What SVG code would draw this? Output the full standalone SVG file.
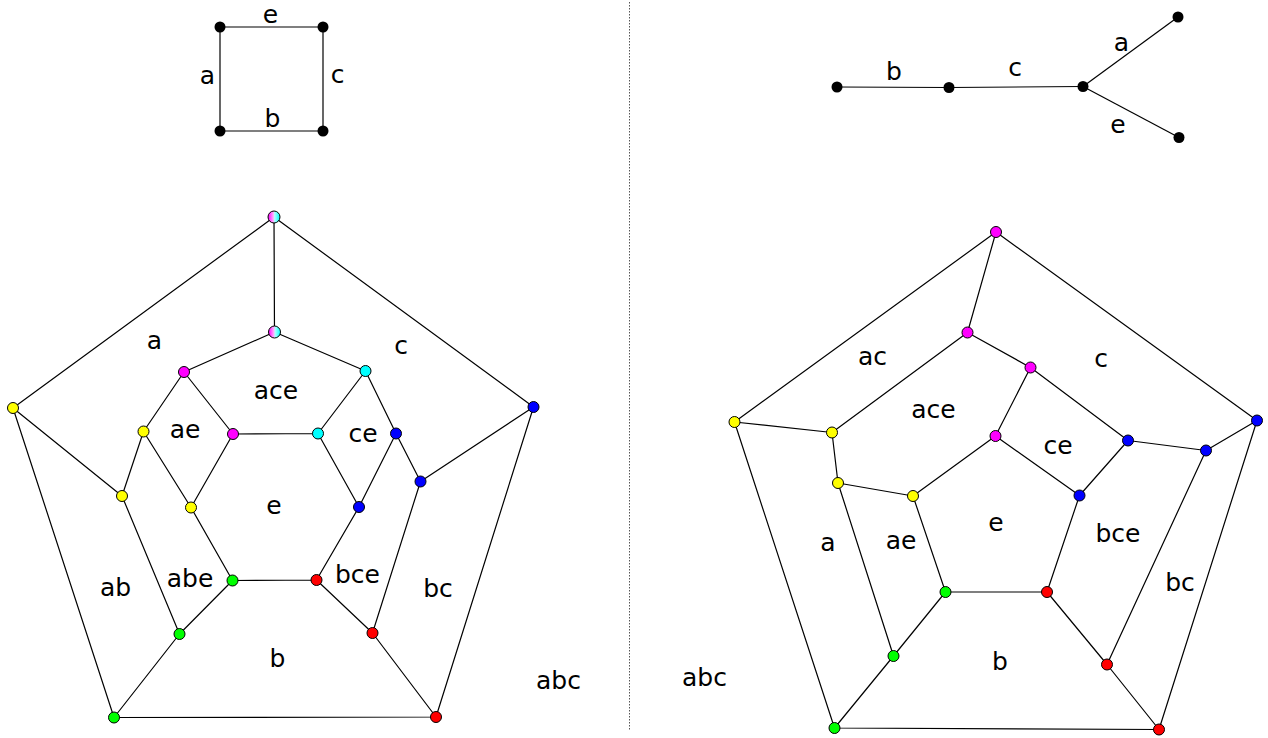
<svg xmlns="http://www.w3.org/2000/svg" width="1268" height="738" viewBox="0 0 1268 738">
<defs>
<linearGradient id="mc" x1="0" y1="0" x2="1" y2="0">
<stop offset="0" stop-color="#ff00ff"/>
<stop offset="0.45" stop-color="#ffb0ff"/>
<stop offset="0.55" stop-color="#b0ffff"/>
<stop offset="1" stop-color="#00ffff"/>
</linearGradient>
</defs>
<style>
.e{stroke:#000;stroke-width:1.2;fill:none}
.n{stroke:#000;stroke-width:1}
.k{fill:#000}
.mc{fill:url(#mc)}
.m{fill:#ff00ff}
.c{fill:#00ffff}
.y{fill:#ffff00}
.b{fill:#0000ff}
.g{fill:#00ff00}
.r{fill:#ff0000}
text{font-family:"DejaVu Sans","Liberation Sans",sans-serif;font-size:25px;text-anchor:middle;fill:#000}
</style>
<rect width="1268" height="738" fill="#fff"/>
<line x1="629.5" y1="2" x2="629.5" y2="731" stroke="#555" stroke-width="1" stroke-dasharray="1.5 1.5"/>

<g id="connectors">
<!-- square -->
<line class="e" x1="220" y1="27" x2="323" y2="27"/>
<line class="e" x1="220" y1="131" x2="323" y2="131"/>
<line class="e" x1="220" y1="27" x2="220" y2="131"/>
<line class="e" x1="323" y1="27" x2="323" y2="131"/>
<!-- tree -->
<line class="e" x1="837" y1="87" x2="949" y2="87.5"/>
<line class="e" x1="949" y1="87.5" x2="1083" y2="86.5"/>
<line class="e" x1="1083" y1="86.5" x2="1178" y2="17"/>
<line class="e" x1="1083" y1="86.5" x2="1179" y2="137.5"/>
<!-- left graph -->
<path class="e" d="M274,217 L13,408 M274,217 L533.5,407 M274,217 L274.5,332 M13,408 L114,717.5 M533.5,407 L436,717 M114,717.5 L436,717
M13,408 L122,496 M533.5,407 L420.5,481.5 M114,717.5 L179.5,634 M436,717 L372.5,633
M274.5,332 L184,372 M274.5,332 L365.5,371 M184,372 L143.5,431.5 M184,372 L233,434 M365.5,371 L396,433.5 M365.5,371 L318,433.5
M143.5,431.5 L122,496 M143.5,431.5 L191,507.5 M122,496 L179.5,634 M179.5,634 L232.5,580.5
M396,433.5 L420.5,481.5 M396,433.5 L359,507 M420.5,481.5 L372.5,633 M372.5,633 L316.5,580
M233,434 L318,433.5 M318,433.5 L359,507 M359,507 L316.5,580 M316.5,580 L232.5,580.5 M232.5,580.5 L191,507.5 M191,507.5 L233,434"/>
<!-- right graph -->
<path class="e" d="M996,232 L734.5,422 M996,232 L1257,420.5 M734.5,422 L834.5,728 M1257,420.5 L1159,729.5 M834.5,728 L1159,729.5
M996,232 L967.5,332.5 M734.5,422 L832,432.5 M1257,420.5 L1206,450.5 M834.5,728 L893.5,656 M1159,729.5 L1107,664.5
M967.5,332.5 L832,432.5 M967.5,332.5 L1030.5,367.5 M1030.5,367.5 L1128,440.5 M1030.5,367.5 L995.5,436
M832,432.5 L838,483 M838,483 L913,496 M838,483 L893.5,656 M913,496 L995.5,436 M913,496 L945.5,592
M995.5,436 L1079.5,495.5 M1128,440.5 L1206,450.5 M1128,440.5 L1079.5,495.5 M1079.5,495.5 L1047,592
M1206,450.5 L1107,664.5 M945.5,592 L1047,592 M945.5,592 L893.5,656 M1047,592 L1107,664.5"/>
</g>

<g id="square-nodes">
<circle class="k" cx="220" cy="27" r="5.5"/>
<circle class="k" cx="323" cy="27" r="5.5"/>
<circle class="k" cx="220" cy="131" r="5.5"/>
<circle class="k" cx="323" cy="131" r="5.5"/>
</g>
<g id="square-labels">
<text x="270.5" y="22.5">e</text>
<text x="207.5" y="84">a</text>
<text x="337.5" y="83">c</text>
<text x="272.5" y="126.5">b</text>
</g>

<g id="tree-nodes">
<circle class="k" cx="837" cy="87" r="5.5"/>
<circle class="k" cx="949" cy="87.5" r="5.5"/>
<circle class="k" cx="1083" cy="86.5" r="5.5"/>
<circle class="k" cx="1178" cy="17" r="5.5"/>
<circle class="k" cx="1179" cy="137.5" r="5.5"/>
</g>
<g id="tree-labels">
<text x="894" y="80">b</text>
<text x="1015" y="76">c</text>
<text x="1121.5" y="50.5">a</text>
<text x="1118" y="133">e</text>
</g>

<g id="left-nodes">
<circle id="LT1" class="n mc" cx="274" cy="217" r="6"/>
<circle id="LT2" class="n mc" cx="274.5" cy="332" r="6"/>
<circle id="Lm1" class="n m" cx="184" cy="372" r="5.5"/>
<circle id="Lc1" class="n c" cx="365.5" cy="371" r="5.5"/>
<circle id="Ly0" class="n y" cx="13" cy="408" r="5.5"/>
<circle id="Lb0" class="n b" cx="533.5" cy="407" r="5.5"/>
<circle id="Ly1" class="n y" cx="143.5" cy="431.5" r="5.5"/>
<circle id="Lm2" class="n m" cx="233" cy="434" r="5.5"/>
<circle id="Lc2" class="n c" cx="318" cy="433.5" r="5.5"/>
<circle id="Lb1" class="n b" cx="396" cy="433.5" r="5.5"/>
<circle id="Lb2" class="n b" cx="420.5" cy="481.5" r="5.5"/>
<circle id="Ly2" class="n y" cx="122" cy="496" r="5.5"/>
<circle id="Ly3" class="n y" cx="191" cy="507.5" r="5.5"/>
<circle id="Lb3" class="n b" cx="359" cy="507" r="5.5"/>
<circle id="Lg1" class="n g" cx="232.5" cy="580.5" r="5.5"/>
<circle id="Lr1" class="n r" cx="316.5" cy="580" r="5.5"/>
<circle id="Lg2" class="n g" cx="179.5" cy="634" r="5.5"/>
<circle id="Lr2" class="n r" cx="372.5" cy="633" r="5.5"/>
<circle id="Lg0" class="n g" cx="114" cy="717.5" r="5.5"/>
<circle id="Lr0" class="n r" cx="436" cy="717" r="5.5"/>
</g>
<g id="left-labels">
<text x="154.5" y="348.5">a</text>
<text x="401" y="353.5">c</text>
<text x="276" y="399">ace</text>
<text x="185" y="438">ae</text>
<text x="363" y="442">ce</text>
<text x="274" y="514">e</text>
<text x="115.5" y="595.5">ab</text>
<text x="190" y="586.5">abe</text>
<text x="357.5" y="582.5">bce</text>
<text x="438" y="596.5">bc</text>
<text x="277.5" y="666.5">b</text>
<text x="558.5" y="689">abc</text>
</g>

<g id="right-nodes">
<circle id="RT" class="n m" cx="996" cy="232" r="5.5"/>
<circle id="Rm1" class="n m" cx="967.5" cy="332.5" r="5.5"/>
<circle id="Rm2" class="n m" cx="1030.5" cy="367.5" r="5.5"/>
<circle id="Rm3" class="n m" cx="995.5" cy="436" r="5.5"/>
<circle id="Ry0" class="n y" cx="734.5" cy="422" r="5.5"/>
<circle id="Ry1" class="n y" cx="832" cy="432.5" r="5.5"/>
<circle id="Ry2" class="n y" cx="838" cy="483" r="5.5"/>
<circle id="Ry3" class="n y" cx="913" cy="496" r="5.5"/>
<circle id="Rb0" class="n b" cx="1257" cy="420.5" r="5.5"/>
<circle id="Rb1" class="n b" cx="1128" cy="440.5" r="5.5"/>
<circle id="Rb2" class="n b" cx="1206" cy="450.5" r="5.5"/>
<circle id="Rb3" class="n b" cx="1079.5" cy="495.5" r="5.5"/>
<circle id="Rg1" class="n g" cx="945.5" cy="592" r="5.5"/>
<circle id="Rr1" class="n r" cx="1047" cy="592" r="5.5"/>
<circle id="Rg2" class="n g" cx="893.5" cy="656" r="5.5"/>
<circle id="Rr2" class="n r" cx="1107" cy="664.5" r="5.5"/>
<circle id="Rg0" class="n g" cx="834.5" cy="728" r="5.5"/>
<circle id="Rr0" class="n r" cx="1159" cy="729.5" r="5.5"/>
</g>
<g id="right-labels">
<text x="872.5" y="365">ac</text>
<text x="1101" y="367">c</text>
<text x="933.5" y="417.5">ace</text>
<text x="1058" y="453.5">ce</text>
<text x="996" y="530.5">e</text>
<text x="828" y="550.5">a</text>
<text x="901" y="549">ae</text>
<text x="1118" y="542">bce</text>
<text x="1180" y="591">bc</text>
<text x="1000" y="669.5">b</text>
<text x="704.5" y="685.5">abc</text>
</g>
</svg>
